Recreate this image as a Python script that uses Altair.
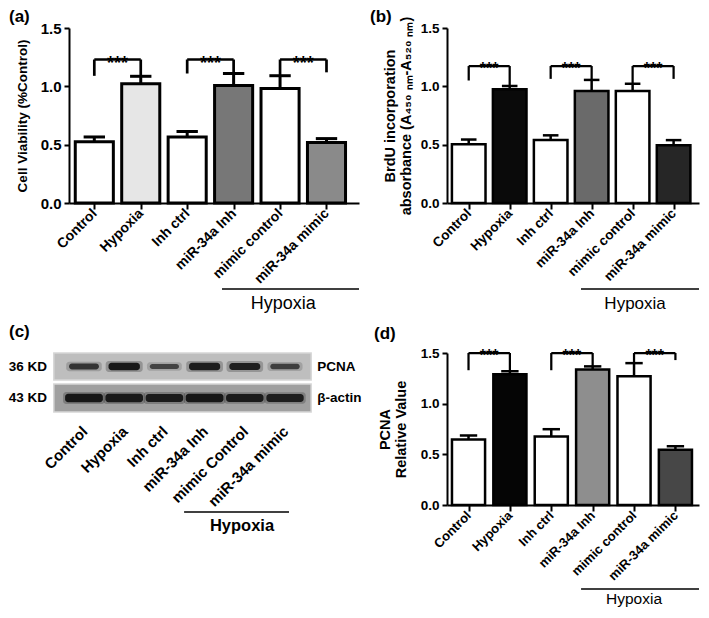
import json
import altair as alt
import pandas as pd

FONT = "Liberation Sans"

# ---------------- data ----------------
categories = ["Control", "Hypoxia", "Inh ctrl", "miR-34a Inh", "mimic control", "miR-34a mimic"]
blot_labels = ["Control", "Hypoxia", "Inh ctrl", "miR-34a Inh", "mimic Control", "miR-34a mimic"]

viability_mean = [0.525, 1.022, 0.566, 1.008, 0.981, 0.519]
viability_sem = [0.041, 0.064, 0.047, 0.102, 0.110, 0.033]

brdu_mean = [0.503, 0.975, 0.539, 0.961, 0.959, 0.494]
brdu_sem = [0.041, 0.028, 0.041, 0.094, 0.063, 0.045]

pcna_mean = [0.646, 1.290, 0.677, 1.338, 1.270, 0.545]
pcna_sem = [0.040, 0.030, 0.071, 0.030, 0.130, 0.035]

# relative band strength on the western blot
pcna_band = [0.70, 1.00, 0.55, 0.95, 0.92, 0.60]
actin_band = [1.00, 0.96, 0.94, 1.00, 0.93, 0.90]

# significance brackets: (left group, right group, bracket top, left foot, right foot)
viability_brackets = [(0, 1, 1.23, 1.09, 1.086), (2, 3, 1.23, 1.11, 1.11), (4, 5, 1.23, 1.09, 1.12)]
brdu_brackets = [(0, 1, 1.174, 1.05, 1.003), (2, 3, 1.174, 1.064, 1.055), (4, 5, 1.174, 1.022, 1.064)]
pcna_brackets = [(0, 1, 1.50, 1.33, 1.32), (2, 3, 1.50, 1.33, 1.37), (4, 5, 1.50, 1.40, 1.43)]

# bar fills (styles)
viability_fill = ["white", "#e6e6e6", "white", "#777777", "white", "#8a8a8a"]
brdu_fill = ["white", "#0a0a0a", "white", "#6a6a6a", "white", "#262626"]
pcna_fill = ["white", "#050505", "white", "#8e8e8e", "white", "#474747"]

ONE = pd.DataFrame({"k": [0]})


def bar_panel(mean, sem, fills, brackets, cfg):
    n = len(categories)
    idx = list(range(n))
    df = pd.DataFrame({"i": idx, "cat": categories, "mean": mean, "sem": sem, "fill": fills})
    W, H = cfg["width"], cfg["height"]
    bh, ch, sw = cfg["bar_half"], cfg["cap_half"], cfg["sw"]
    xs = alt.Scale(domain=cfg["xdom"], nice=False, zero=False)
    ys = alt.Scale(domain=[0, 1.5], nice=False, zero=True)
    xaxis = alt.Axis(values=idx, labelExpr=json.dumps(categories) + "[datum.value]",
                     labelAngle=315, labelAlign="right", labelBaseline="middle",
                     labelFontSize=cfg["xlab"], labelFontWeight="bold", labelPadding=2,
                     tickSize=6, title=None, labelFlush=False, labelOverlap=False, labelBound=False)
    yaxis = alt.Axis(values=[0, 0.5, 1.0, 1.5], format=".1f", labelFontSize=cfg["ylab"],
                     labelFontWeight="bold", labelPadding=3, tickSize=5, title=cfg["title"],
                     titleFontSize=cfg["tsize"], titleFontWeight="bold", titlePadding=cfg["tpad"],
                     titleLineHeight=cfg["tsize"] + 1,
                     labelFlush=False, labelOverlap=False)
    base = alt.Chart(df).transform_calculate(
        lo=f"datum.i - {bh}", hi=f"datum.i + {bh}", top="datum.mean + datum.sem",
        clo=f"datum.i - {ch}", chi=f"datum.i + {ch}", zero="0")
    bars = base.mark_rect(stroke="black", strokeWidth=sw).encode(
        x=alt.X("lo:Q", scale=xs, axis=xaxis), x2="hi:Q",
        y=alt.Y("zero:Q", scale=ys, axis=yaxis), y2="mean:Q",
        fill=alt.Fill("fill:N", scale=None))
    stem = base.mark_rule(strokeWidth=sw, color="black").encode(x="i:Q", y="mean:Q", y2="top:Q")
    cap = base.mark_rule(strokeWidth=sw, color="black").encode(x="clo:Q", x2="chi:Q", y="top:Q")

    segs, stars = [], []
    for (l, r, t, fl, fr) in brackets:
        segs += [dict(x=l, x2=r, y=t, y2=t), dict(x=l, x2=l, y=fl, y2=t), dict(x=r, x2=r, y=fr, y2=t)]
        stars.append(dict(x=(l + r) / 2, y=t))
    brk = alt.Chart(pd.DataFrame(segs)).mark_rule(strokeWidth=sw * 0.9, color="black").encode(
        x="x:Q", x2="x2:Q", y="y:Q", y2="y2:Q")
    st = alt.Chart(pd.DataFrame(stars)).mark_text(
        text="***", fontSize=cfg["star"], fontWeight="bold", baseline="alphabetic",
        dy=round(cfg["star"] * 0.5, 1), font=FONT, color="black").encode(x="x:Q", y="y:Q")

    hline = alt.Chart(ONE).mark_rule(strokeWidth=1.5, color="black").encode(
        x=alt.datum(cfg["hyp_x"][0]), x2=alt.datum(cfg["hyp_x"][1]), y=alt.value(H + cfg["hyp_line"]))
    htext = alt.Chart(ONE).mark_text(text="Hypoxia", fontSize=cfg["hyp_size"], font=FONT,
                                      baseline="middle", color="black").encode(
        x=alt.datum(cfg["hyp_tx"]), y=alt.value(H + cfg["hyp_text"]))
    tag = alt.Chart(ONE).mark_text(text=cfg["tag"], fontSize=17, fontWeight="bold", font=FONT,
                                   align="left", baseline="top", color="black").encode(
        x=alt.value(cfg["tag_xy"][0]), y=alt.value(cfg["tag_xy"][1]))
    return alt.layer(bars, stem, cap, brk, st, hline, htext, tag).properties(width=W, height=H)


def blot_panel(W, H):
    xs = alt.Scale(domain=[-0.373, 5.597], nice=False, zero=False)
    ys = alt.Scale(domain=[0, H], nice=False, zero=False, reverse=True)
    lanes = pd.DataFrame({"lane": list(range(6)), "label": blot_labels,
                          "pcna": pcna_band, "actin": actin_band})

    def box(y1, y2, fill):
        return alt.Chart(ONE).mark_rect(fill=fill, stroke="#d6d6d6", strokeWidth=1.5).encode(
            x=alt.X(datum=-0.75, scale=xs, axis=None), x2=alt.datum(5.65),
            y=alt.Y(datum=y1, scale=ys, axis=None), y2=alt.datum(y2))

    def bands(field, yc, hw0, hw1, ht0, ht1, pad_x, pad_y, op0, op1):
        return alt.Chart(lanes).transform_calculate(
            x1=f"datum.lane - ({hw0} + {hw1}*datum.{field}) - {pad_x}",
            x2=f"datum.lane + ({hw0} + {hw1}*datum.{field}) + {pad_x}",
            y1=f"{yc} - ({ht0} + {ht1}*datum.{field}) - {pad_y}",
            y2=f"{yc} + ({ht0} + {ht1}*datum.{field}) + {pad_y}",
            op=f"{op0} + {op1}*datum.{field}",
        ).mark_rect(color="#121212", cornerRadius=3).encode(
            x=alt.X("x1:Q", scale=xs, axis=None), x2="x2:Q",
            y=alt.Y("y1:Q", scale=ys, axis=None), y2="y2:Q",
            opacity=alt.Opacity("op:Q", scale=None))

    layers = [
        box(0, 27, "#bebebe"),
        box(31, 59, "#a0a0a0"),
        bands("pcna", 13.5, 0.33, 0.06, 1.0, 2.8, 0.07, 1.8, 0.05, 0.2),
        bands("pcna", 13.5, 0.33, 0.06, 1.0, 2.8, 0.0, 0.0, 0.3, 0.65),
        bands("actin", 45, 0.42, 0.05, 2.4, 1.8, 0.05, 1.8, 0.05, 0.2),
        bands("actin", 45, 0.42, 0.05, 2.4, 1.8, 0.0, 0.0, 0.35, 0.6),
    ]
    for txt, xv, yv, al in [("36 KD", -0.92, 13.5, "right"), ("43 KD", -0.92, 45, "right"),
                            ("PCNA", 5.8, 13.5, "left"), ("β-actin", 5.8, 45, "left")]:
        layers.append(alt.Chart(ONE).mark_text(text=txt, fontSize=13.5, fontWeight="bold", font=FONT,
                                               align=al, baseline="middle", color="black").encode(
            x=alt.datum(xv), y=alt.datum(yv)))
    layers.append(alt.Chart(lanes).transform_calculate(xl="datum.lane + 0.02").mark_text(
        fontSize=15, fontWeight="bold", font=FONT, angle=315, align="right", baseline="middle",
        color="black").encode(x="xl:Q", y=alt.datum(76), text="label:N"))
    layers.append(alt.Chart(ONE).mark_rule(strokeWidth=1.5, color="black").encode(
        x=alt.datum(2.49), x2=alt.datum(5.1), y=alt.datum(159)))
    layers.append(alt.Chart(ONE).mark_text(text="Hypoxia", fontSize=16.5, fontWeight="bold", font=FONT,
                                           baseline="middle", color="black").encode(
        x=alt.datum(3.93), y=alt.datum(173)))
    layers.append(alt.Chart(ONE).mark_text(text="(c)", fontSize=17, fontWeight="bold", font=FONT,
                                           align="left", baseline="top", color="black").encode(
        x=alt.value(-60), y=alt.value(-29)))
    return alt.layer(*layers).properties(width=W, height=H)


panel_a = bar_panel(viability_mean, viability_sem, viability_fill, viability_brackets, dict(
    width=290, height=175, xdom=[-0.545, 5.70], bar_half=0.41, cap_half=0.23, sw=3,
    xlab=14, ylab=15, title="Cell Viability (%Control)", tsize=13.5, tpad=11,
    star=18, hyp_x=[2.75, 5.70], hyp_tx=4.07, hyp_size=18, hyp_line=86, hyp_text=101,
    tag="(a)", tag_xy=[-60, -19]))

panel_b = bar_panel(brdu_mean, brdu_sem, brdu_fill, brdu_brackets, dict(
    width=252, height=175, xdom=[-0.53, 5.62], bar_half=0.41, cap_half=0.19, sw=2.5,
    xlab=13.5, ylab=13.5, title=["BrdU incorporation", "absorbance (A₄₅₀ ₙₘ-A₅₂₀ ₙₘ)"],
    tsize=14.5, tpad=7,
    star=16, hyp_x=[2.74, 5.62], hyp_tx=4.06, hyp_size=17, hyp_line=86, hyp_text=101,
    tag="(b)", tag_xy=[-77, -19]))

panel_c = blot_panel(240, 152)

panel_d = bar_panel(pcna_mean, pcna_sem, pcna_fill, pcna_brackets, dict(
    width=252, height=152, xdom=[-0.52, 5.57], bar_half=0.40, cap_half=0.21, sw=2.5,
    xlab=13, ylab=13.5, title=["PCNA", "Relative Value"], tsize=14.5, tpad=12,
    star=16, hyp_x=[2.72, 5.57], hyp_tx=4.0, hyp_size=15.5, hyp_line=84, hyp_text=94,
    tag="(d)", tag_xy=[-73, -27]))

chart = alt.concat(panel_a, panel_b, panel_c, panel_d, columns=2,
                   spacing={"row": 150, "column": 88}, bounds="flush").properties(
    padding=0
).configure_view(stroke=None).configure_axis(
    labelFont=FONT, titleFont=FONT, grid=False, domainColor="black", tickColor="black",
    labelColor="black", titleColor="black", domainWidth=2, tickWidth=2
).configure_text(font=FONT)

chart.save("out.html", embed_options={"renderer": "svg", "actions": False})
